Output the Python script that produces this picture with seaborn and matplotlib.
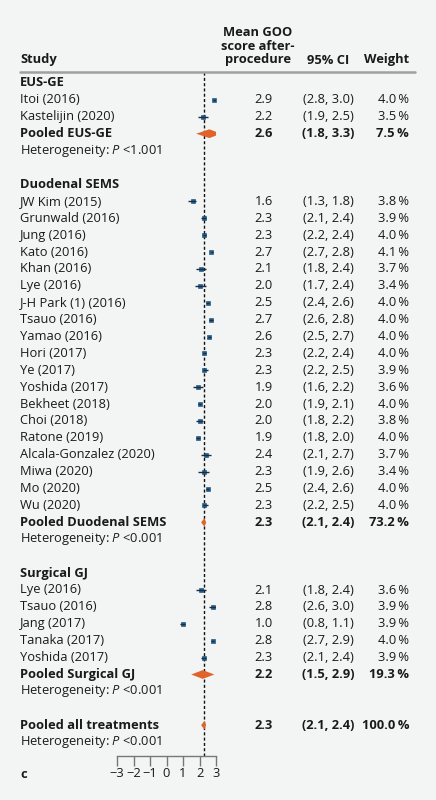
import numpy as np
import pandas as pd
import matplotlib
matplotlib.use("Agg")
import matplotlib.pyplot as plt
import matplotlib.transforms as mtrans
import seaborn as sns

# ---------------- data ----------------
group_names = ["EUS-GE", "Duodenal SEMS", "Surgical GJ"]

eus_studies = ["Itoi (2016)", "Kastelijin (2020)"]
eus_mean = [2.9, 2.2]
eus_lo = [2.8, 1.9]
eus_hi = [3.0, 2.5]
eus_weight = [4.0, 3.5]

sems_studies = ["JW Kim (2015)", "Grunwald (2016)", "Jung (2016)", "Kato (2016)", "Khan (2016)",
                "Lye (2016)", "J-H Park (1) (2016)", "Tsauo (2016)", "Yamao (2016)", "Hori (2017)",
                "Ye (2017)", "Yoshida (2017)", "Bekheet (2018)", "Choi (2018)", "Ratone (2019)",
                "Alcala-Gonzalez (2020)", "Miwa (2020)", "Mo (2020)", "Wu (2020)"]
sems_mean = [1.6, 2.3, 2.3, 2.7, 2.1, 2.0, 2.5, 2.7, 2.6, 2.3, 2.3, 1.9, 2.0, 2.0, 1.9, 2.4, 2.3, 2.5, 2.3]
sems_lo = [1.3, 2.1, 2.2, 2.7, 1.8, 1.7, 2.4, 2.6, 2.5, 2.2, 2.2, 1.6, 1.9, 1.8, 1.8, 2.1, 1.9, 2.4, 2.2]
sems_hi = [1.8, 2.4, 2.4, 2.8, 2.4, 2.4, 2.6, 2.8, 2.7, 2.4, 2.5, 2.2, 2.1, 2.2, 2.0, 2.7, 2.6, 2.6, 2.5]
sems_weight = [3.8, 3.9, 4.0, 4.1, 3.7, 3.4, 4.0, 4.0, 4.0, 4.0, 3.9, 3.6, 4.0, 3.8, 4.0, 3.7, 3.4, 4.0, 4.0]

gj_studies = ["Lye (2016)", "Tsauo (2016)", "Jang (2017)", "Tanaka (2017)", "Yoshida (2017)"]
gj_mean = [2.1, 2.8, 1.0, 2.8, 2.3]
gj_lo = [1.8, 2.6, 0.8, 2.7, 2.1]
gj_hi = [2.4, 3.0, 1.1, 2.9, 2.4]
gj_weight = [3.6, 3.9, 3.9, 4.0, 3.9]

pooled_labels = ["Pooled EUS-GE", "Pooled Duodenal SEMS", "Pooled Surgical GJ"]
pooled_mean = [2.6, 2.3, 2.2]
pooled_lo = [1.8, 2.1, 1.5]
pooled_hi = [3.3, 2.4, 2.9]
pooled_weight = [7.5, 73.2, 19.3]
het_text = ["<1.001", "<0.001", "<0.001"]

overall_label = "Pooled all treatments"
overall_mean = 2.3
overall_lo = 2.1
overall_hi = 2.4
overall_weight = 100.0
overall_het = "<0.001"

x_ticks = [-3, -2, -1, 0, 1, 2, 3]
panel_label = "c"

# ---------------- build rows ----------------
groups = [
    (eus_studies, eus_mean, eus_lo, eus_hi, eus_weight),
    (sems_studies, sems_mean, sems_lo, sems_hi, sems_weight),
    (gj_studies, gj_mean, gj_lo, gj_hi, gj_weight),
]
rows = []
r = 0
for gi, (st, m, lo, hi, w) in enumerate(groups):
    rows.append(dict(row=r, kind="header", label=group_names[gi])); r += 1
    for s, mm, l, h, ww in zip(st, m, lo, hi, w):
        rows.append(dict(row=r, kind="study", label=s, mean=mm, lo=l, hi=h, weight=ww)); r += 1
    rows.append(dict(row=r, kind="pooled", label=pooled_labels[gi], mean=pooled_mean[gi],
                     lo=pooled_lo[gi], hi=pooled_hi[gi], weight=pooled_weight[gi])); r += 1
    rows.append(dict(row=r, kind="het", label=het_text[gi])); r += 1
    r += 1
rows.append(dict(row=r, kind="pooled", label=overall_label, mean=overall_mean,
                 lo=overall_lo, hi=overall_hi, weight=overall_weight)); r += 1
rows.append(dict(row=r, kind="het", label=overall_het)); r += 1
df = pd.DataFrame(rows)
studies = df[df.kind == "study"]
pooled = df[df.kind == "pooled"]

# ---------------- style ----------------
sns.set_theme(style="white")
BG = "#f3f4f4"
FONT = ["Open Sans", "DejaVu Sans"]
plt.rcParams["font.family"] = FONT
plt.rcParams["mathtext.fontset"] = "custom"
plt.rcParams["mathtext.it"] = "Open Sans:italic"
plt.rcParams["mathtext.rm"] = "Open Sans"
TXT = "#1a1a1a"
FS = 9.3

W, H = 436, 800
fig = plt.figure(figsize=(W / 100, H / 100), dpi=100, facecolor=BG)

def fx(px):
    return px / W

def fy(py):
    return 1 - py / H

# forest axis: x -3..3 over px 117..216, y spans header line (72) to axis (756)
ax_left, ax_right = 117, 216
ax_top, ax_bot = 72, 756
ax = fig.add_axes([fx(ax_left), fy(ax_bot), fx(ax_right - ax_left), (ax_bot - ax_top) / H])
ax.set_facecolor("none")
row_px = 16.9
first_row_px = 83
ax.set_ylim((ax_bot - first_row_px) / row_px, -(first_row_px - ax_top) / row_px)
ax.set_xlim(-3, 3)

# reference line
ax.axvline(overall_mean, color="#111111", lw=1.0, ls=(0, (2.2, 1.6)), zorder=1)

# study points
sns.scatterplot(data=studies, x="mean", y="row", marker="s", s=11, color="#1f6291",
                edgecolor="#17466b", linewidth=0.4, ax=ax, zorder=3, legend=False)
ax.hlines(studies["row"], studies["lo"], studies["hi"], color="#1b2c44", lw=1.0, zorder=4)

# pooled diamonds
dh = 0.26
for _, p in pooled.iterrows():
    xs = [p["lo"], p["mean"], p["hi"], p["mean"]]
    ys = [p["row"], p["row"] - dh, p["row"], p["row"] + dh]
    ax.fill(xs, ys, color="#e0632a", lw=0, zorder=3)

# axes styling
for side in ["top", "left", "right"]:
    ax.spines[side].set_visible(False)
ax.spines["bottom"].set_color("#777777")
ax.spines["bottom"].set_linewidth(1.0)
ax.set_xticks(x_ticks)
ax.set_xticklabels([str(t).replace("-", "\u2212") for t in x_ticks])
ax.tick_params(axis="x", direction="out", length=7, width=1.0, color="#777777",
               labelsize=FS, labelcolor=TXT, pad=1.0, bottom=True)
ax.set_yticks([])
ax.set_xlabel("")
ax.set_ylabel("")

# ---------------- text columns ----------------
tr = mtrans.blended_transform_factory(fig.transFigure, ax.transData)
x_study = fx(20)
x_mean = fx(273)
x_ci = fx(328)
x_w = fx(409)

for _, rw in df.iterrows():
    y = rw["row"]
    k = rw["kind"]
    if k == "header":
        fig.text(x_study, y, rw["label"], transform=tr, ha="left", va="center",
                 fontsize=FS, fontweight="bold", color=TXT)
    elif k == "het":
        fig.text(x_study, y, r"Heterogeneity: $P$ " + rw["label"], transform=tr,
                 ha="left", va="center", fontsize=FS, color=TXT)
    elif k in ("study", "pooled"):
        wt = "bold" if k == "pooled" else "normal"
        fig.text(x_study, y, rw["label"], transform=tr, ha="left", va="center",
                 fontsize=FS, fontweight=wt, color=TXT)
        fig.text(x_mean, y, f"{rw['mean']:.1f}", transform=tr, ha="right", va="center",
                 fontsize=FS, fontweight=wt, color=TXT)
        fig.text(x_ci, y, f"({rw['lo']:.1f}, {rw['hi']:.1f})", transform=tr, ha="center",
                 va="center", fontsize=FS, fontweight=wt, color=TXT)
        fig.text(x_w, y, f"{rw['weight']:.1f}\u2009%", transform=tr, ha="right",
                 va="center", fontsize=FS, fontweight=wt, color=TXT)

# header
fig.text(x_study, fy(60), "Study", ha="left", va="center", fontsize=FS, fontweight="bold", color=TXT)
fig.text(fx(258), fy(46), "Mean GOO\nscore after-\nprocedure", ha="center", va="center",
         fontsize=FS, fontweight="bold", color=TXT, linespacing=1.0)
fig.text(x_ci, fy(60), "95% CI", ha="center", va="center", fontsize=FS, fontweight="bold", color=TXT)
fig.text(x_w, fy(60), "Weight", ha="right", va="center", fontsize=FS, fontweight="bold", color=TXT)
fig.add_artist(plt.Line2D([fx(20), fx(415)], [fy(72), fy(72)], color="#a0a0a0", lw=1.8,
                          transform=fig.transFigure))

fig.text(x_study, fy(775), panel_label, ha="left", va="center", fontsize=FS, fontweight="bold", color=TXT)

fig.savefig("out.png", dpi=100, facecolor=BG)
